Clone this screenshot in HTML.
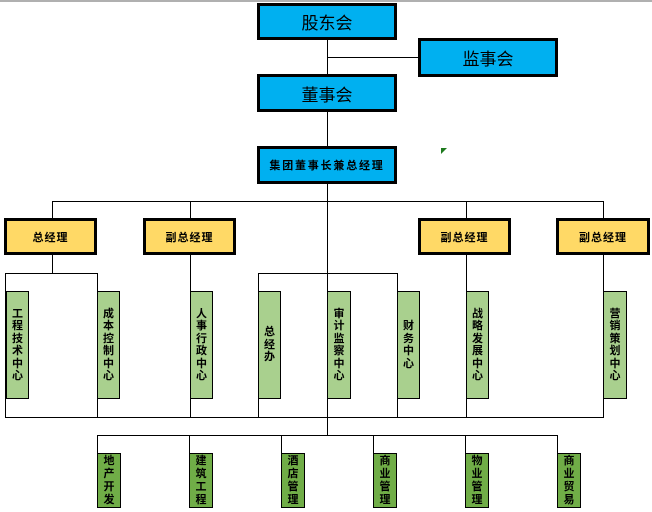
<!DOCTYPE html>
<html><head><meta charset="utf-8"><style>
*{margin:0;padding:0;box-sizing:border-box}
body{width:652px;height:512px;background:#fff;position:relative;overflow:hidden;font-family:"Liberation Sans","Noto Sans CJK SC",sans-serif}
.l{position:absolute;background:#000}
.b{position:absolute;border:3px solid #000;background:#00b0f0;display:flex;align-items:center;justify-content:center;color:#000}
.y{position:absolute;border:3px solid #000;background:#ffd966;display:flex;align-items:center;justify-content:center;font-size:11px;font-weight:bold;letter-spacing:1px}
.g{position:absolute;border:1px solid #000;background:#a9d08e;display:flex;align-items:center;justify-content:center;font-size:11px;font-weight:bold;line-height:12.5px;text-align:center;width:23px;top:291px;height:108px}
.d{position:absolute;border:1px solid #000;background:#70ad47;display:flex;align-items:center;justify-content:center;font-size:11px;font-weight:bold;line-height:13px;text-align:center;width:24px;top:453px;height:55px}
</style></head><body>
<div style="position:absolute;left:0;top:0;width:652px;height:2px;background:#b0b0b0"></div>

<div class="l" style="left:327px;top:40px;width:1px;height:34px"></div>
<div class="l" style="left:327px;top:57px;width:91px;height:1px"></div>
<div class="l" style="left:327px;top:112px;width:1px;height:34px"></div>
<div class="l" style="left:327px;top:184px;width:1px;height:251px"></div>
<div class="l" style="left:52px;top:201px;width:551px;height:1px"></div>
<div class="l" style="left:52px;top:201px;width:1px;height:17px"></div>
<div class="l" style="left:52px;top:255px;width:1px;height:18px"></div>
<div class="l" style="left:5px;top:273px;width:93px;height:1px"></div>
<div class="l" style="left:5px;top:273px;width:1px;height:144px"></div>
<div class="l" style="left:97px;top:273px;width:1px;height:144px"></div>
<div class="l" style="left:190px;top:201px;width:1px;height:17px"></div>
<div class="l" style="left:190px;top:255px;width:1px;height:162px"></div>
<div class="l" style="left:258px;top:273px;width:140px;height:1px"></div>
<div class="l" style="left:258px;top:273px;width:1px;height:144px"></div>
<div class="l" style="left:397px;top:273px;width:1px;height:144px"></div>
<div class="l" style="left:466px;top:201px;width:1px;height:17px"></div>
<div class="l" style="left:466px;top:255px;width:1px;height:162px"></div>
<div class="l" style="left:603px;top:201px;width:1px;height:17px"></div>
<div class="l" style="left:603px;top:255px;width:1px;height:162px"></div>
<div class="l" style="left:5px;top:417px;width:599px;height:1px"></div>
<div class="l" style="left:97px;top:435px;width:461px;height:1px"></div>
<div class="l" style="left:97px;top:435px;width:1px;height:18px"></div>
<div class="l" style="left:189px;top:435px;width:1px;height:18px"></div>
<div class="l" style="left:281px;top:435px;width:1px;height:18px"></div>
<div class="l" style="left:373px;top:435px;width:1px;height:18px"></div>
<div class="l" style="left:465px;top:435px;width:1px;height:18px"></div>
<div class="l" style="left:557px;top:435px;width:1px;height:18px"></div>

<div class="b" style="left:257px;top:3px;width:140px;height:37px;font-size:17px">股东会</div>
<div class="b" style="left:418px;top:38px;width:140px;height:39px;font-size:17px">监事会</div>
<div class="b" style="left:257px;top:74px;width:140px;height:38px;font-size:17px">董事会</div>
<div class="b" style="left:257px;top:146px;width:140px;height:38px;font-size:11px;font-weight:bold;letter-spacing:1.8px">集团董事长兼总经理</div>

<div class="y" style="left:4px;top:218px;width:93px;height:37px">总经理</div>
<div class="y" style="left:143px;top:218px;width:93px;height:37px">副总经理</div>
<div class="y" style="left:418px;top:218px;width:93px;height:37px">副总经理</div>
<div class="y" style="left:556px;top:218px;width:94px;height:37px">副总经理</div>

<div class="g" style="left:6px">工<br>程<br>技<br>术<br>中<br>心</div>
<div class="g" style="left:97px">成<br>本<br>控<br>制<br>中<br>心</div>
<div class="g" style="left:190px">人<br>事<br>行<br>政<br>中<br>心</div>
<div class="g" style="left:258px">总<br>经<br>办</div>
<div class="g" style="left:327px;width:24px">审<br>计<br>监<br>察<br>中<br>心</div>
<div class="g" style="left:397px">财<br>务<br>中<br>心</div>
<div class="g" style="left:466px">战<br>略<br>发<br>展<br>中<br>心</div>
<div class="g" style="left:603px;width:24px">营<br>销<br>策<br>划<br>中<br>心</div>

<div class="d" style="left:97px">地<br>产<br>开<br>发</div>
<div class="d" style="left:189px">建<br>筑<br>工<br>程</div>
<div class="d" style="left:281px">酒<br>店<br>管<br>理</div>
<div class="d" style="left:373px">商<br>业<br>管<br>理</div>
<div class="d" style="left:465px">物<br>业<br>管<br>理</div>
<div class="d" style="left:557px">商<br>业<br>贸<br>易</div>

<svg style="position:absolute;left:441px;top:148px" width="7" height="6"><polygon points="0,0 6,0 0,6" fill="#1e7a1e"/></svg>
</body></html>
